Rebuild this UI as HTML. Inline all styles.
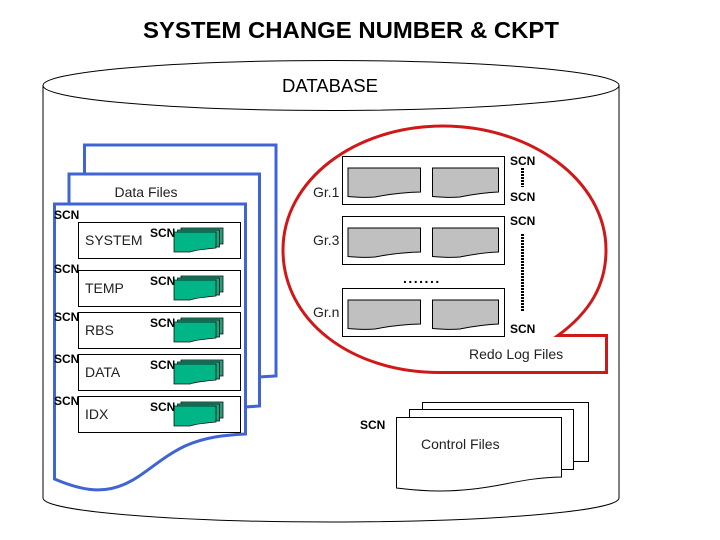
<!DOCTYPE html>
<html><head><meta charset="utf-8"><style>
html,body{margin:0;padding:0;background:#fff}
svg{display:block}
text{font-family:"Liberation Sans",sans-serif;fill:#000}
.s{font-size:12px;font-weight:bold}
.l{font-size:14px;fill:#222}
</style></head><body>
<svg width="720" height="540" viewBox="0 0 720 540" xmlns="http://www.w3.org/2000/svg">
<defs>
<g id="gf" stroke="#111" stroke-width="0.8">
<rect x="181" y="228" width="42" height="16" fill="#249e7c"/>
<rect x="177.500" y="230" width="42" height="17" fill="#1ba57f"/>
<path d="M174 232H216V248C205 249 195 250 190 252H174Z" fill="#00b586"/>
</g>
<path id="gl" d="M348 168H420.500V192C400 192.500 385 195 375 197C365 198 355 197 348 196.500Z" fill="#c0c0c0" stroke="#000" stroke-width="1"/>
<path id="gr" d="M432.500 168H498.500V192C482 192.500 470 195 460 197C450 198 440 197 432.500 196.500Z" fill="#c0c0c0" stroke="#000" stroke-width="1"/>
</defs>
<rect width="720" height="540" fill="#fff"/>
<text x="351" y="38" text-anchor="middle" font-size="23.500" font-weight="bold" textLength="416" lengthAdjust="spacingAndGlyphs">SYSTEM CHANGE NUMBER &amp; CKPT</text>

<!-- database cylinder -->
<path d="M43 85V498C43 511 170 522 331 522C492 522 619 511 619 498V85" fill="#fff" stroke="#000" stroke-width="1"/>
<ellipse cx="331" cy="85.500" rx="288" ry="25" fill="#fff" stroke="#000" stroke-width="1"/>
<text x="330" y="92" text-anchor="middle" font-size="18" textLength="96" lengthAdjust="spacingAndGlyphs">DATABASE</text>

<!-- data files pages -->
<g fill="#fff" stroke="#3f65d4" stroke-width="3">
<path d="M84.500 175V145H276V376L258 377"/>
<path d="M69 203V174H259.500V406L245 407"/>
<path d="M54.500 204H245.500V434C225 435 205 437 185 446C160 458 145 475 125 484C105 493 85 492 54.500 479Z"/>
</g>
<text x="146" y="197" text-anchor="middle" class="l">Data Files</text>

<g fill="#fff" stroke="#000" stroke-width="1">
<rect x="78.500" y="222.500" width="162" height="36"/>
<rect x="78.500" y="270.500" width="162" height="36"/>
<rect x="78.500" y="312.500" width="162" height="36"/>
<rect x="78.500" y="354.500" width="162" height="36"/>
<rect x="78.500" y="396.500" width="162" height="36"/>
</g>
<use href="#gf"/>
<use href="#gf" y="48"/>
<use href="#gf" y="90"/>
<use href="#gf" y="132"/>
<use href="#gf" y="174"/>

<text x="85" y="245" class="l">SYSTEM</text>
<text x="85" y="293" class="l">TEMP</text>
<text x="85" y="335" class="l">RBS</text>
<text x="85" y="377" class="l">DATA</text>
<text x="85" y="419" class="l">IDX</text>

<text x="54" y="219" class="s">SCN</text>
<text x="54" y="273" class="s">SCN</text>
<text x="54" y="321" class="s">SCN</text>
<text x="54" y="363" class="s">SCN</text>
<text x="54" y="405" class="s">SCN</text>
<text x="150" y="237" class="s">SCN</text>
<text x="150" y="285" class="s">SCN</text>
<text x="150" y="327" class="s">SCN</text>
<text x="150" y="369" class="s">SCN</text>
<text x="150" y="411" class="s">SCN</text>

<!-- redo log callout -->
<path d="M440 372.500H606.500V335.500H558C590 312 606 285 606 250C606 180 530 126 443 126C355 126 283 180 283 250C283 320 350 372.500 440 372.500Z" fill="#fff" stroke="#d01818" stroke-width="3"/>

<g fill="#fff" stroke="#000" stroke-width="1">
<rect x="342.500" y="156.500" width="162" height="48"/>
<rect x="342.500" y="216.500" width="162" height="48"/>
<rect x="342.500" y="288.500" width="162" height="48"/>
</g>
<use href="#gl"/><use href="#gr"/>
<use href="#gl" y="60"/><use href="#gr" y="60"/>
<use href="#gl" y="132"/><use href="#gr" y="132"/>
<text x="313" y="197" class="l">Gr.1</text>
<text x="313" y="245" class="l">Gr.3</text>
<text x="313" y="317" class="l">Gr.n</text>
<text x="510" y="165" class="s">SCN</text>
<text x="510" y="201" class="s">SCN</text>
<text x="510" y="225" class="s">SCN</text>
<text x="510" y="333" class="s">SCN</text>
<path d="M522.500 168V187M522.500 234V312" stroke="#000" stroke-width="3" stroke-dasharray="2 1" fill="none"/>
<text x="403" y="283" font-size="14" font-weight="bold" letter-spacing="1.500">.......</text>
<text x="469" y="359" class="l">Redo Log Files</text>

<!-- control files -->
<g fill="#fff" stroke="#000" stroke-width="1">
<path d="M422.500 402.500H588.500V461.500H573.500V409.500H422.500Z"/>
<path d="M409.500 409.500H573.500V469.500H561.500V417.500H409.500Z"/>
<path d="M396.500 417.500H561.500V477C540 477.500 525 480 505 484C485 488 465 491 440 491C420 491 405 489 396.500 488Z"/>
</g>
<text x="360" y="429" class="s">SCN</text>
<text x="421" y="449" class="l">Control Files</text>
</svg>
</body></html>
